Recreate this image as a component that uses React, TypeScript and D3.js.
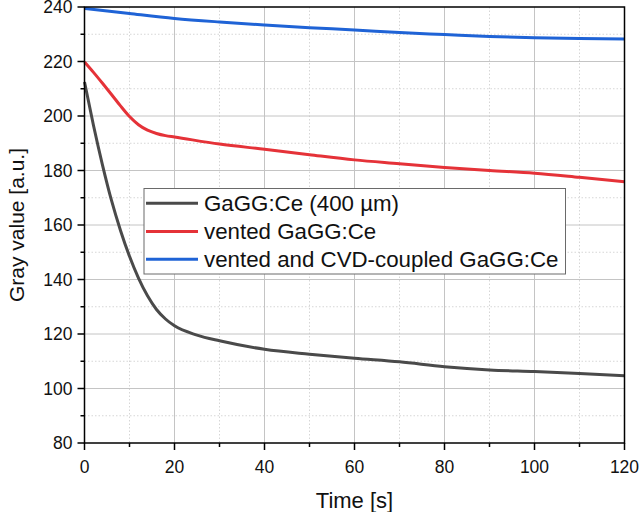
import React, { useEffect, useRef } from 'react';
import * as d3 from 'd3';

// Gray value over time for the three scintillator samples
const timeBare = [0, 2, 4, 6, 8, 10, 12, 14, 16, 18, 20, 25, 30, 40, 50, 60, 70, 80, 90, 100, 110, 120];
const grayBare = [212.5, 196.5, 182, 169, 158, 148.5, 140.5, 134, 129, 125.5, 123, 119.6, 117.5, 114.4, 112.6, 111.1, 109.8, 108, 106.8, 106.2, 105.5, 104.7];

const timeVented = [0, 2, 4, 6, 8, 10, 12, 14, 16, 18, 20, 30, 40, 50, 60, 70, 80, 90, 100, 110, 120];
const grayVented = [219.8, 216, 212, 207.9, 203.7, 199.8, 196.8, 194.8, 193.6, 192.8, 192.3, 189.7, 187.8, 185.8, 183.9, 182.5, 181.1, 180, 179, 177.5, 175.9];

const timeCoupled = [0, 10, 20, 30, 40, 50, 60, 70, 80, 90, 100, 110, 120];
const grayCoupled = [239.5, 237.6, 235.8, 234.5, 233.4, 232.4, 231.6, 230.6, 229.9, 229.2, 228.7, 228.4, 228.3];

const seriesNames = ['GaGG:Ce (400 µm)', 'vented GaGG:Ce', 'vented and CVD-coupled GaGG:Ce'];
const seriesColors = ['#4a4a4a', '#e53238', '#1f63d6'];

const xTicks = [0, 20, 40, 60, 80, 100, 120];
const yTicks = [80, 100, 120, 140, 160, 180, 200, 220, 240];

const App: React.FC = () => {
  const svgRef = useRef<SVGSVGElement>(null);

  const width = 640;
  const height = 512;
  const left = 84.5;
  const right = 624.5;
  const top = 7;
  const bottom = 443;

  useEffect(() => {
    if (!svgRef.current) return;
    const svg = d3.select(svgRef.current);
    svg.selectAll('*').remove();

    const x = d3.scaleLinear().domain([0, 120]).range([left, right]);
    const y = d3.scaleLinear().domain([80, 240]).range([bottom, top]);

    const font = 'Liberation Sans, Arial, sans-serif';

    // minor grid (dotted)
    const minorX = d3.range(10, 120, 20);
    const minorY = d3.range(90, 240, 20);
    const grid = svg.append('g');
    grid.selectAll('.mx').data(minorX).enter().append('line')
      .attr('x1', d => x(d)).attr('x2', d => x(d))
      .attr('y1', top).attr('y2', bottom)
      .style('stroke', '#d6d6d6').style('stroke-width', 1).style('stroke-dasharray', '1.5,2');
    grid.selectAll('.my').data(minorY).enter().append('line')
      .attr('x1', left).attr('x2', right)
      .attr('y1', d => y(d)).attr('y2', d => y(d))
      .style('stroke', '#d6d6d6').style('stroke-width', 1).style('stroke-dasharray', '1.5,2');

    // major grid
    grid.selectAll('.gx').data(xTicks.slice(1, -1)).enter().append('line')
      .attr('x1', d => x(d)).attr('x2', d => x(d))
      .attr('y1', top).attr('y2', bottom)
      .style('stroke', '#c4c4c4').style('stroke-width', 1);
    grid.selectAll('.gy').data(yTicks.slice(1, -1)).enter().append('line')
      .attr('x1', left).attr('x2', right)
      .attr('y1', d => y(d)).attr('y2', d => y(d))
      .style('stroke', '#c4c4c4').style('stroke-width', 1);

    // curves
    const data = [
      d3.zip(timeBare, grayBare),
      d3.zip(timeVented, grayVented),
      d3.zip(timeCoupled, grayCoupled),
    ];
    const line = d3.line<number[]>()
      .x(d => x(d[0]))
      .y(d => y(d[1]))
      .curve(d3.curveMonotoneX);

    data.forEach((pts, i) => {
      svg.append('path')
        .attr('d', line(pts) as string)
        .style('fill', 'none')
        .style('stroke', seriesColors[i])
        .style('stroke-width', 3)
        .style('stroke-linejoin', 'round');
    });

    // frame
    svg.append('rect')
      .attr('x', left).attr('y', top)
      .attr('width', right - left).attr('height', bottom - top)
      .style('fill', 'none').style('stroke', '#000').style('stroke-width', 1.5);

    // ticks
    const axes = svg.append('g').style('stroke', '#000').style('stroke-width', 1.5);
    axes.selectAll('.tx').data(xTicks).enter().append('line')
      .attr('x1', d => x(d)).attr('x2', d => x(d))
      .attr('y1', bottom).attr('y2', bottom + 7);
    axes.selectAll('.tmx').data(minorX).enter().append('line')
      .attr('x1', d => x(d)).attr('x2', d => x(d))
      .attr('y1', bottom).attr('y2', bottom + 4);
    axes.selectAll('.ty').data(yTicks).enter().append('line')
      .attr('x1', left - 7).attr('x2', left)
      .attr('y1', d => y(d)).attr('y2', d => y(d));
    axes.selectAll('.tmy').data(minorY).enter().append('line')
      .attr('x1', left - 4).attr('x2', left)
      .attr('y1', d => y(d)).attr('y2', d => y(d));

    // tick labels
    svg.selectAll('.lx').data(xTicks).enter().append('text')
      .attr('x', d => x(d)).attr('y', bottom + 30)
      .attr('text-anchor', 'middle')
      .style('font-family', font).style('font-size', '17.5px').style('fill', '#111')
      .text(d => d);
    svg.selectAll('.ly').data(yTicks).enter().append('text')
      .attr('x', left - 12).attr('y', d => y(d) + 6.3)
      .attr('text-anchor', 'end')
      .style('font-family', font).style('font-size', '17.5px').style('fill', '#111')
      .text(d => d);

    // axis titles
    svg.append('text')
      .attr('x', (left + right) / 2).attr('y', 508)
      .attr('text-anchor', 'middle')
      .style('font-family', font).style('font-size', '22px').style('fill', '#111')
      .text('Time [s]');
    svg.append('text')
      .attr('transform', `translate(24, ${(top + bottom) / 2}) rotate(-90)`)
      .attr('text-anchor', 'middle')
      .style('font-family', font).style('font-size', '21px').style('fill', '#111')
      .text('Gray value [a.u.]');

    // legend
    const lg = svg.append('g');
    lg.append('rect')
      .attr('x', 144).attr('y', 188.5)
      .attr('width', 421.5).attr('height', 85.5)
      .style('fill', '#fff').style('stroke', '#6a6a6a').style('stroke-width', 1);
    const rowY = [203.3, 231.5, 259.3];
    seriesNames.forEach((name, i) => {
      lg.append('line')
        .attr('x1', 146).attr('x2', 198)
        .attr('y1', rowY[i]).attr('y2', rowY[i])
        .style('stroke', seriesColors[i]).style('stroke-width', 3);
      lg.append('text')
        .attr('x', 204).attr('y', rowY[i] + 7.8)
        .style('font-family', font).style('font-size', '22.3px').style('fill', '#111')
        .text(name);
    });
  }, []);

  return (
    <div style={{ position: 'absolute', left: 0, top: 0 }}>
      <svg ref={svgRef} width={width} height={height} style={{ display: 'block', background: '#fff' }} />
    </div>
  );
};

export default App;
